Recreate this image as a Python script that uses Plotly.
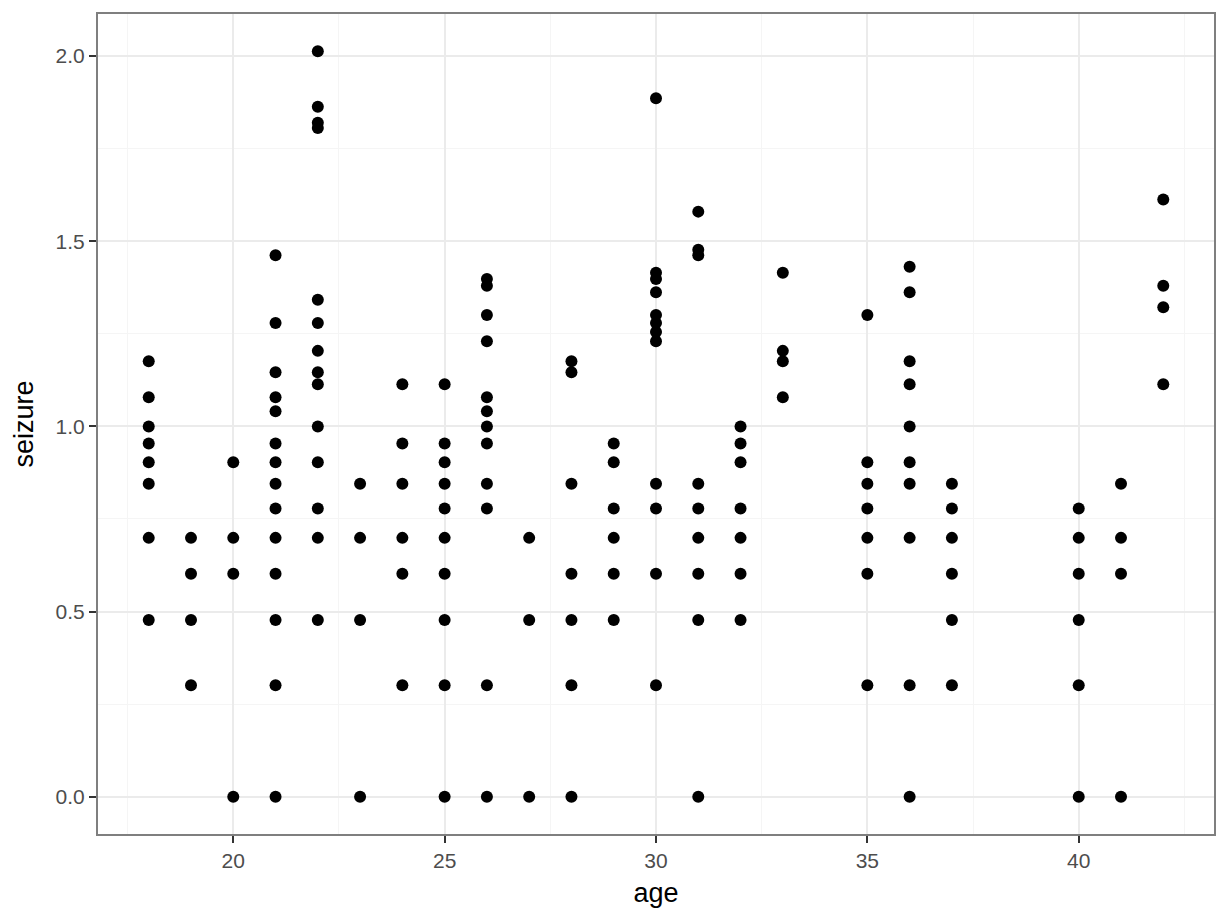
import plotly.graph_objects as go

# age groups and log-scaled seizure values
age_18 = [1.176, 1.079, 1.0, 0.954, 0.903, 0.845, 0.699, 0.477]
age_19 = [0.699, 0.602, 0.477, 0.301]
age_20 = [0.903, 0.699, 0.602, 0.0]
age_21 = [1.462, 1.279, 1.146, 1.079, 1.041, 0.954, 0.903, 0.845, 0.778, 0.699, 0.602, 0.477, 0.301, 0.0]
age_22 = [2.013, 1.863, 1.820, 1.806, 1.342, 1.279, 1.204, 1.146, 1.114, 1.0, 0.903, 0.778, 0.699, 0.477]
age_23 = [0.845, 0.699, 0.477, 0.0]
age_24 = [1.114, 0.954, 0.845, 0.699, 0.602, 0.301]
age_25 = [1.114, 0.954, 0.903, 0.845, 0.778, 0.699, 0.602, 0.477, 0.301, 0.0]
age_26 = [1.398, 1.380, 1.301, 1.230, 1.079, 1.041, 1.0, 0.954, 0.845, 0.778, 0.301, 0.0]
age_27 = [0.699, 0.477, 0.0]
age_28 = [1.176, 1.146, 0.845, 0.602, 0.477, 0.301, 0.0]
age_29 = [0.954, 0.903, 0.778, 0.699, 0.602, 0.477]
age_30 = [1.886, 1.415, 1.398, 1.362, 1.301, 1.279, 1.255, 1.230, 0.845, 0.778, 0.602, 0.301]
age_31 = [1.580, 1.477, 1.462, 0.845, 0.778, 0.699, 0.602, 0.477, 0.0]
age_32 = [1.0, 0.954, 0.903, 0.778, 0.699, 0.602, 0.477]
age_33 = [1.415, 1.204, 1.176, 1.079]
age_35 = [1.301, 0.903, 0.845, 0.778, 0.699, 0.602, 0.301]
age_36 = [1.431, 1.362, 1.176, 1.114, 1.0, 0.903, 0.845, 0.699, 0.301, 0.0]
age_37 = [0.845, 0.778, 0.699, 0.602, 0.477, 0.301]
age_40 = [0.778, 0.699, 0.602, 0.477, 0.301, 0.0]
age_41 = [0.845, 0.699, 0.602, 0.0]
age_42 = [1.613, 1.380, 1.322, 1.114]

groups = {
    18: age_18, 19: age_19, 20: age_20, 21: age_21, 22: age_22, 23: age_23,
    24: age_24, 25: age_25, 26: age_26, 27: age_27, 28: age_28, 29: age_29,
    30: age_30, 31: age_31, 32: age_32, 33: age_33, 35: age_35, 36: age_36,
    37: age_37, 40: age_40, 41: age_41, 42: age_42,
}

x_ticks = [20, 25, 30, 35, 40]
y_ticks = [0.0, 0.5, 1.0, 1.5, 2.0]
y_tick_labels = ["0.0", "0.5", "1.0", "1.5", "2.0"]

xs, ys = [], []
for a, vals in groups.items():
    for v in vals:
        xs.append(a)
        ys.append(v)

fig = go.Figure(go.Scatter(
    x=xs, y=ys, mode="markers",
    marker=dict(color="black", size=12, line=dict(width=0)),
    showlegend=False,
))

font = "Liberation Sans, Arial, sans-serif"
axis_common = dict(
    showgrid=True, gridcolor="#EBEBEB", gridwidth=2,
    zeroline=False,
    showline=True, linecolor="#7F7F7F", linewidth=2, mirror=True,
    ticks="outside", ticklen=7, tickcolor="#333333", tickwidth=2,
    tickfont=dict(family=font, size=21, color="#4D4D4D"),
)

fig.update_xaxes(
    range=[16.8, 43.2], tickvals=x_ticks,
    minor=dict(showgrid=True, gridcolor="#F5F5F5", gridwidth=1,
               tickvals=[17.5, 22.5, 27.5, 32.5, 37.5, 42.5]),
    title=dict(text="age", font=dict(family=font, size=27, color="black"), standoff=12),
    **axis_common,
)
fig.update_yaxes(
    range=[-0.1007, 2.1137], tickvals=y_ticks, ticktext=y_tick_labels,
    minor=dict(showgrid=True, gridcolor="#F5F5F5", gridwidth=1,
               tickvals=[0.25, 0.75, 1.25, 1.75]),
    title=dict(text="seizure", font=dict(family=font, size=27, color="black"), standoff=14),
    **axis_common,
)

fig.update_layout(
    width=1228, height=921,
    margin=dict(l=98, r=12, t=12, b=87),
    plot_bgcolor="white", paper_bgcolor="white",
)

fig.write_html("out.html", config={"displayModeBar": False},
               post_script="document.body.style.margin='0';")
